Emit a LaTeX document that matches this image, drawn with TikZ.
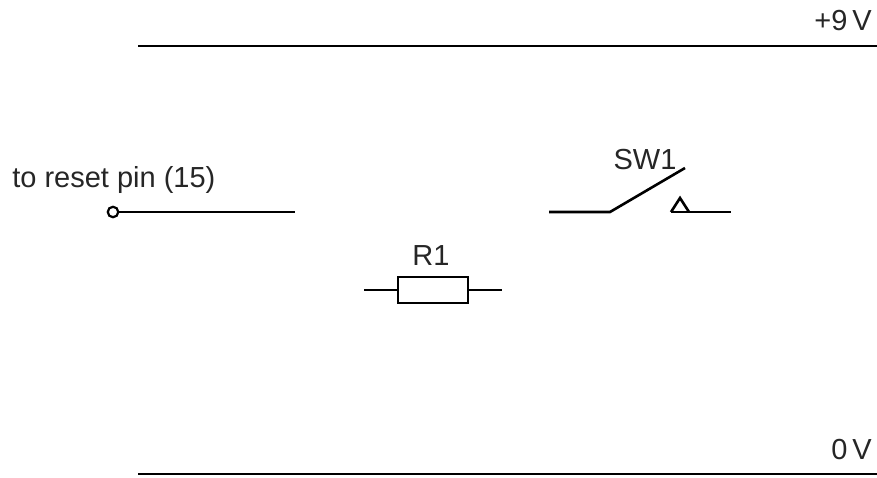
\documentclass[tikz,border=0pt]{standalone}
\usepackage{fontspec}
\setmainfont{Liberation Sans}
\begin{document}
\begin{tikzpicture}[x=1pt,y=-1pt,line width=2.6pt]
	\tikzset{lbl/.style={inner sep=0pt,font=\fontsize{29}{31}\selectfont,text=black!85}}
	\useasboundingbox (0,0) rectangle (877,478);
	% supply rails
	\coordinate (vccl) at (138,46);
	\coordinate (vccr) at (877,46);
	\coordinate (gndl) at (138,474);
	\coordinate (gndr) at (877,474);
	\draw (vccl) -- (vccr);
	\draw (gndl) -- (gndr);
	\node[lbl,anchor=base east] (vcc) at (873,31) {+9\,V};
	\node[lbl,anchor=base east] (gnd) at (873,459) {0\,V};
	% reset pin
	\node[lbl,anchor=base west] (rst) at (11,188) {to reset pin (15)};
	\node[circle,draw,line width=2.2pt,minimum size=10.5pt,inner sep=0pt] (pin) at (113,212) {};
	\coordinate (rstend) at (295,212);
	\draw (pin) -- (rstend);
	% resistor
	\node[draw,minimum width=70pt,minimum height=26pt,inner sep=0pt] (res) at (433,290) {};
	\coordinate (resl) at (364,290);
	\coordinate (resr) at (502,290);
	\draw (resl) -- (res);
	\draw (res) -- (resr);
	\node[lbl,anchor=base] (rname) at (431,265) {R1};
	% switch
	\coordinate (swa) at (549,212);
	\coordinate (swb) at (610,212);
	\coordinate (swc) at (685,168);
	\coordinate (swd) at (671,212);
	\coordinate (swe) at (731,212);
	\coordinate (swf) at (680,198);
	\coordinate (swg) at (689,212);
	\draw (swa) -- (swb) -- (swc);
	\draw (swd) -- (swe);
	\draw (swd) -- (swf) -- (swg);
	\node[lbl,anchor=base] (swname) at (645,170) {SW1};
\end{tikzpicture}
\end{document}
